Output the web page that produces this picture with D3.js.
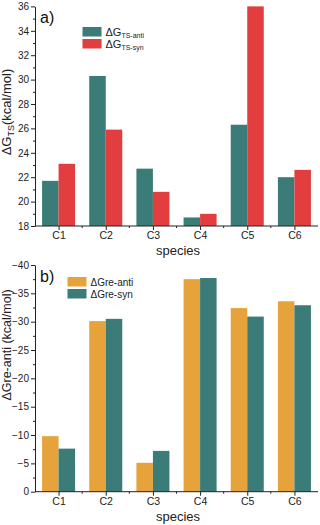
<!DOCTYPE html>
<html lang="en">
<head>
<meta charset="UTF-8"/>
<title>Delta G bar charts</title>
<script src="https://d3js.org/d3.v7.min.js"></script>
<style>
  body { margin: 0; background: #fff; font-family: 'Liberation Sans', Arial, sans-serif; }
  svg { display: block; }
  .axis path, .axis line { stroke: #222; }
  .axis text { font-size: 10px; fill: #222; font-family: 'Liberation Sans', Arial, sans-serif; }
  text.label { font-size: 13px; fill: #222; }
  text.panel { font-size: 16px; fill: #111; }
  text.leg { font-size: 11px; fill: #222; }
</style>
</head>
<body>
<svg width="320" height="525"></svg>
<script>
// species on the x axis
const species = ['C1', 'C2', 'C3', 'C4', 'C5', 'C6'];

// panel a: activation free energy (kcal/mol)
const tsAnti = [21.7, 30.3, 22.7, 18.7, 26.3, 22.0];
const tsSyn  = [23.1, 25.9, 20.8, 19.0, 36.0, 22.6];
const ticksA = [18, 20, 22, 24, 26, 28, 30, 32, 34, 36];

// panel b: reaction free energy (kcal/mol)
const reAnti = [-9.8, -30.1, -5.1, -37.5, -32.4, -33.6];
const reSyn  = [-7.6, -30.5, -7.2, -37.7, -30.9, -32.9];
const ticksB = [0, -5, -10, -15, -20, -25, -30, -35, -40];

const teal = '#3b7c78', red = '#e23d3f', orange = '#e6a33c';

const svg = d3.select('svg');
const left = 35, right = 318;

function panel(cfg) {
  const x = d3.scaleBand().domain(species).range([left, right]).paddingInner(0.3).paddingOuter(0.15);
  const x1 = d3.scaleBand().domain([0, 1]).range([0, x.bandwidth()]);
  const y = d3.scaleLinear().domain(cfg.domain).range([cfg.bottom, cfg.top]);
  const g = svg.append('g');

  const rows = species.map((s, i) => ({ s, v: [cfg.s1[i], cfg.s2[i]] }));
  const grp = g.selectAll('g.grp').data(rows).enter().append('g')
    .attr('transform', d => `translate(${x(d.s)},0)`);
  grp.selectAll('rect').data(d => d.v).enter().append('rect')
    .attr('x', (v, j) => x1(j))
    .attr('width', x1.bandwidth())
    .attr('y', v => y(v))
    .attr('height', v => cfg.bottom - y(v))
    .attr('fill', (v, j) => cfg.colors[j]);

  // y axis with minor ticks
  const minor = [];
  for (let k = 0; k < cfg.ticks.length - 1; k++) minor.push((cfg.ticks[k] + cfg.ticks[k + 1]) / 2);
  g.append('g').attr('class', 'axis')
    .attr('transform', `translate(${left},0)`)
    .call(d3.axisLeft(y).tickValues(minor).tickSize(2).tickFormat(''))
    .call(a => a.select('.domain').remove());
  g.append('g').attr('class', 'axis')
    .attr('transform', `translate(${left},0)`)
    .call(d3.axisLeft(y).tickValues(cfg.ticks).tickSize(4).tickSizeOuter(0).tickPadding(2).tickFormat(d3.format('d')));

  // x axis: major ticks at centers, minor at category boundaries
  const xc = d3.scalePoint().domain(species).range([x('C1') + x.bandwidth() / 2, x('C6') + x.bandwidth() / 2]);
  const bounds = species.slice(1).map(s => x(s) - x.step() * x.paddingInner() / 2);
  g.append('g').attr('class', 'axis')
    .attr('transform', `translate(0,${cfg.bottom})`)
    .selectAll('line').data(bounds).enter().append('line')
    .attr('x1', d => d).attr('x2', d => d).attr('y1', 0).attr('y2', 2);
  const xa = g.append('g').attr('class', 'axis')
    .attr('transform', `translate(0,${cfg.bottom})`)
    .call(d3.axisBottom(xc).tickSize(4).tickPadding(1.5));
  xa.select('.domain').attr('d', `M${left},0H${right}`);
  xa.selectAll('text').style('font-size', '10.5px');

  g.append('text').attr('class', 'label')
    .attr('x', 178).attr('y', cfg.bottom + 29)
    .attr('text-anchor', 'middle').text('species');

  g.append('text').attr('class', 'panel')
    .attr('x', 40).attr('y', cfg.top + 17).text(cfg.tag);

  // legend
  cfg.legend.forEach((l, j) => {
    g.append('rect').attr('x', cfg.legX).attr('y', cfg.legY + j * 12)
      .attr('width', 19).attr('height', 9.5).attr('fill', cfg.colors[j]);
    const t = g.append('text').attr('class', 'leg')
      .attr('x', cfg.legX + 23).attr('y', cfg.legY + j * 12 + 8.5);
    t.append('tspan').text(l[0]);
    if (l[1]) t.append('tspan').attr('dy', 2.5).style('font-size', '7px').text(l[1]);
  });

  return g;
}

const ga = panel({
  domain: [18, 36], top: 6.4, bottom: 226, ticks: ticksA,
  s1: tsAnti, s2: tsSyn, colors: [teal, red], tag: 'a)',
  legX: 82.5, legY: 27,
  legend: [['ΔG', 'TS-anti'], ['ΔG', 'TS-syn']]
});
const ylA = ga.append('text').attr('class', 'label')
  .attr('transform', 'translate(11,112) rotate(-90)').attr('text-anchor', 'middle');
ylA.append('tspan').text('ΔG');
ylA.append('tspan').attr('dy', 3).style('font-size', '9px').text('TS');
ylA.append('tspan').attr('dy', -3).text('(kcal/mol)');

const gb = panel({
  domain: [0, -40], top: 265, bottom: 491.7, ticks: ticksB,
  s1: reAnti, s2: reSyn, colors: [orange, teal], tag: 'b)',
  legX: 67.5, legY: 277,
  legend: [['ΔGre-anti'], ['ΔGre-syn']]
});
gb.selectAll('text.leg').style('font-size', '10px');
gb.append('text').attr('class', 'label')
  .attr('transform', 'translate(11,345) rotate(-90)').attr('text-anchor', 'middle')
  .style('font-size', '12.5px')
  .text('ΔGre-anti (kcal/mol)');
</script>
</body>
</html>
